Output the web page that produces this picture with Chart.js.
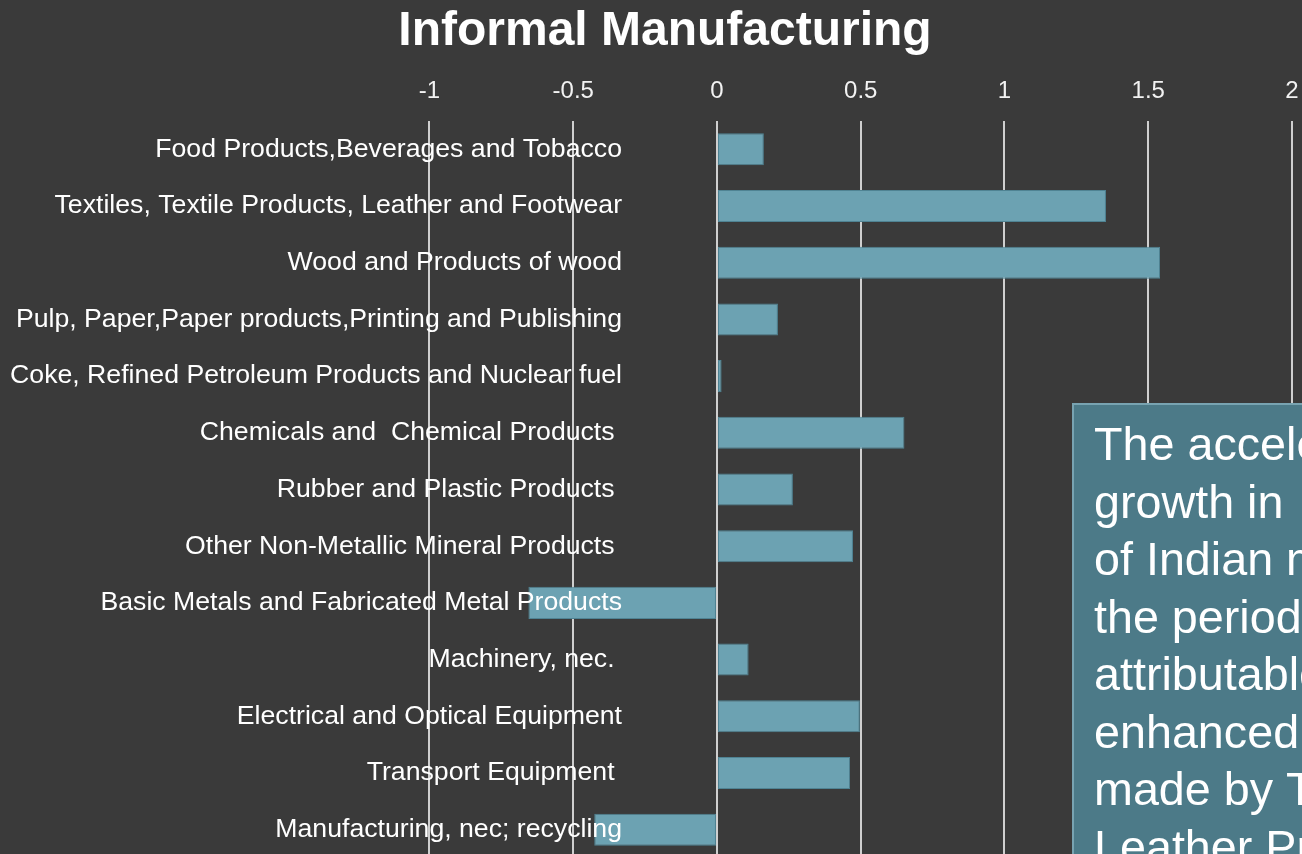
<!DOCTYPE html>
<html>
<head>
<meta charset="utf-8">
<title>Informal Manufacturing</title>
<script src="https://cdn.jsdelivr.net/npm/chart.js@4/dist/chart.umd.min.js"></script>
<style>
  html, body { margin: 0; padding: 0; background: #3a3a3a; overflow: hidden; width: 1302px; height: 854px; }
  canvas { display: block; }
</style>
</head>
<body>
<canvas id="chart" width="1302" height="858"></canvas>
<script>
// Industry groups (trailing spaces kept as in the source labels)
const categories = [
  'Food Products,Beverages and Tobacco',
  'Textiles, Textile Products, Leather and Footwear',
  'Wood and Products of wood',
  'Pulp, Paper,Paper products,Printing and Publishing',
  'Coke, Refined Petroleum Products and Nuclear fuel',
  'Chemicals and  Chemical Products ',
  'Rubber and Plastic Products ',
  'Other Non-Metallic Mineral Products ',
  'Basic Metals and Fabricated Metal Products',
  'Machinery, nec. ',
  'Electrical and Optical Equipment',
  'Transport Equipment ',
  'Manufacturing, nec; recycling'
];

// Growth values per industry group
const growthValues = [0.163, 1.353, 1.541, 0.212, 0.016, 0.652, 0.264, 0.473, -0.656, 0.110, 0.497, 0.463, -0.427];

// Value axis tick marks
const xTickValues = [-1, -0.5, 0, 0.5, 1, 1.5, 2];

// Callout text, one entry per line
const noteLines = [
  'The accelerated',
  'growth in',
  'of Indian manufacturing in',
  'the period is largely',
  'attributable to the',
  'enhanced contribution',
  'made by Textiles and',
  'Leather Products'
];

const FONT = "'Liberation Sans', Arial, sans-serif";

const calloutPlugin = {
  id: 'callout',
  afterDraw(chart) {
    const ctx = chart.ctx;
    const x = 1073, y = 404;
    ctx.save();
    ctx.fillStyle = '#4c7a88';
    ctx.fillRect(x, y, 400, 500);
    ctx.strokeStyle = '#78a3b1';
    ctx.lineWidth = 2;
    ctx.strokeRect(x, y, 400, 500);
    ctx.fillStyle = '#ffffff';
    ctx.font = '46.7px ' + FONT;
    ctx.textBaseline = 'alphabetic';
    ctx.textAlign = 'left';
    noteLines.forEach((line, i) => {
      ctx.fillText(line, x + 21, 460 + i * 57.5);
    });
    ctx.restore();
  }
};

new Chart(document.getElementById('chart'), {
  type: 'bar',
  data: {
    labels: categories,
    datasets: [{
      data: growthValues,
      backgroundColor: '#6ca2b2',
      borderColor: '#4f8393',
      borderWidth: 1,
      borderSkipped: false,
      categoryPercentage: 1,
      barPercentage: 0.565
    }]
  },
  options: {
    indexAxis: 'y',
    responsive: false,
    devicePixelRatio: 1,
    animation: false,
    layout: { padding: { left: 28, right: 0, top: 0, bottom: 0 } },
    plugins: {
      legend: { display: false },
      tooltip: { enabled: false },
      title: {
        display: true,
        text: 'Informal Manufacturing',
        color: '#ffffff',
        font: { family: FONT, size: 48, weight: 'bold', lineHeight: 1.2 },
        padding: { top: 3, bottom: 0 }
      }
    },
    scales: {
      x: {
        position: 'top',
        min: -2.3965,
        max: 2.0348,
        afterBuildTicks(scale) {
          scale.ticks = xTickValues.map(v => ({ value: v }));
        },
        afterFit(scale) {
          scale.height = 60.4;
          scale.paddingLeft = 0;
          scale.paddingRight = 0;
        },
        grid: { color: '#cfcfcf', lineWidth: 2, drawTicks: false },
        border: { display: false },
        ticks: {
          color: '#f2f2f2',
          padding: 15,
          font: { family: FONT, size: 24 },
          maxRotation: 0,
          callback: v => String(v)
        }
      },
      y: {
        // category labels sit just left of the zero line
        position: { x: -0.3304 },
        afterFit(scale) {
          scale.paddingTop = 0;
          scale.paddingBottom = 0;
        },
        grid: { display: false, drawTicks: false },
        border: { display: false },
        ticks: {
          z: 1,
          color: '#ffffff',
          padding: 0,
          autoSkip: false,
          font: { family: FONT, size: 26.67 }
        }
      }
    }
  },
  plugins: [calloutPlugin]
});
</script>
</body>
</html>
